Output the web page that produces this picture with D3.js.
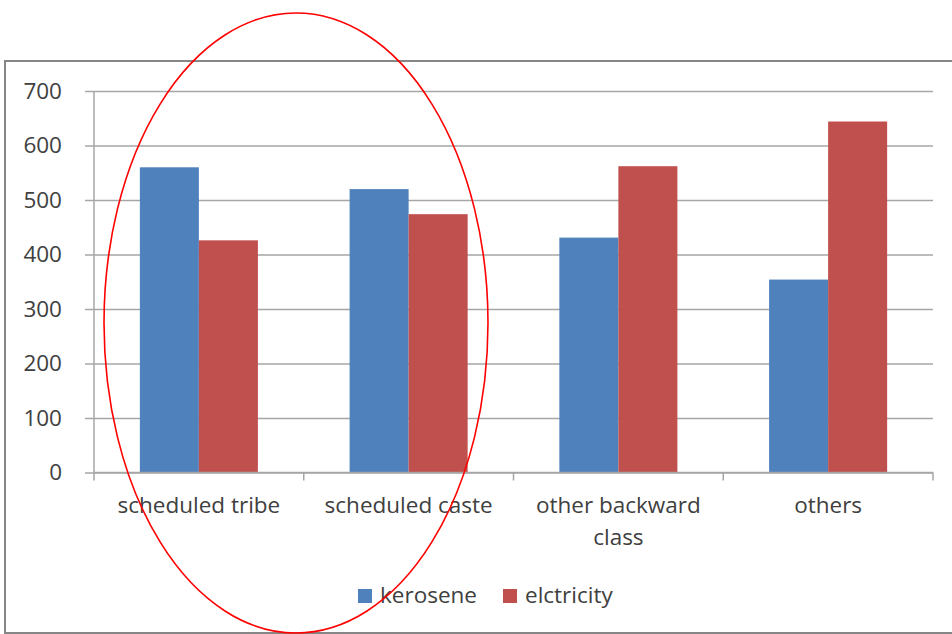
<!DOCTYPE html>
<html>
<head>
<meta charset="utf-8">
<script src="https://cdn.jsdelivr.net/npm/d3@7"></script>
<style>
  body { margin: 0; background: #fff; }
  text { font-family: "Open Sans", "Liberation Sans", sans-serif; fill: #404040; }
</style>
</head>
<body>
<div id="chart"></div>
<script>
// data
const categories = ["scheduled tribe", "scheduled caste", "other backward class", "others"];
const seriesNames = ["kerosene", "elctricity"];
const kerosene = [560, 520, 431, 354];
const elctricity = [426, 474, 562, 644];
const yTicks = [0, 100, 200, 300, 400, 500, 600, 700];
const colors = ["#4F81BD", "#C0504D"];

const W = 952, H = 634;
const plot = { left: 94, right: 933, top: 91, bottom: 472.5 };
const fontSize = "22.5px";

const svg = d3.select("#chart").append("svg")
  .attr("width", W)
  .attr("height", H);

// outer frame
svg.append("rect")
  .attr("x", 5).attr("y", 61)
  .attr("width", 960).attr("height", 572)
  .attr("fill", "none")
  .attr("stroke", "#868686")
  .attr("stroke-width", 2);

const rows = categories.map((c, i) => ({ cat: c, values: [kerosene[i], elctricity[i]] }));

let x0 = d3.scaleBand()
  .domain(categories)
  .range([plot.left, plot.right]);

let x1 = d3.scaleBand()
  .domain(seriesNames)
  .range([0, x0.bandwidth()])
  .paddingOuter(0.777);

let y = d3.scaleLinear()
  .domain([0, 700])
  .range([plot.bottom, plot.top]);

// gridlines + y labels (axis placed at right edge, ticks reach back past the y axis)
const yAxis = svg.append("g")
  .attr("transform", "translate(" + plot.right + ",0)")
  .call(d3.axisLeft(y).tickValues(yTicks).tickSize(plot.right - plot.left + 9).tickPadding(23));
yAxis.select(".domain").remove();
yAxis.selectAll("line").attr("stroke", "#a6a6a6").attr("stroke-width", 1.5);
yAxis.selectAll("text")
  .attr("fill", "#404040")
  .style("font-family", "'Open Sans', 'Liberation Sans', sans-serif")
  .style("font-size", fontSize);

// y axis line
svg.append("line")
  .attr("x1", plot.left).attr("x2", plot.left)
  .attr("y1", plot.top).attr("y2", plot.bottom)
  .attr("stroke", "#a6a6a6").attr("stroke-width", 1.5);

// bars
const groups = svg.selectAll(".grp")
  .data(rows)
  .enter().append("g")
  .attr("class", "grp")
  .attr("transform", (d) => "translate(" + x0(d.cat) + ",0)");

groups.selectAll("rect")
  .data((d) => d.values.map((v, i) => ({ name: seriesNames[i], v, i })))
  .enter().append("rect")
  .attr("x", (d) => x1(d.name))
  .attr("y", (d) => y(d.v))
  .attr("width", x1.bandwidth())
  .attr("height", (d) => y(0) - y(d.v))
  .attr("fill", (d) => colors[d.i]);

// x axis line with ticks at category boundaries
svg.append("line")
  .attr("x1", plot.left).attr("x2", plot.right)
  .attr("y1", plot.bottom).attr("y2", plot.bottom)
  .attr("stroke", "#a6a6a6").attr("stroke-width", 1.5);

const bounds = categories.map((c) => x0(c)).concat([plot.right]);
svg.selectAll(".xtick")
  .data(bounds)
  .enter().append("line")
  .attr("class", "xtick")
  .attr("x1", (d) => d).attr("x2", (d) => d)
  .attr("y1", plot.bottom).attr("y2", plot.bottom + 8)
  .attr("stroke", "#a6a6a6").attr("stroke-width", 1.5);

// category labels, wrapped like Excel does
const wrapLines = { "other backward class": ["other backward", "class"] };
svg.selectAll(".xlabel")
  .data(categories)
  .enter().append("text")
  .attr("class", "xlabel")
  .attr("text-anchor", "middle")
  .style("font-size", fontSize)
  .each(function(d) {
    const lines = wrapLines[d] || [d];
    const t = d3.select(this);
    lines.forEach((l, i) => {
      t.append("tspan")
        .attr("x", x0(d) + x0.bandwidth() / 2)
        .attr("y", 513 + i * 32)
        .text(l);
    });
  });

// legend
const legend = svg.append("g").attr("class", "legend");
const legendX = [358, 503];
seriesNames.forEach((name, i) => {
  legend.append("rect")
    .attr("x", legendX[i]).attr("y", 589)
    .attr("width", 14).attr("height", 14)
    .attr("fill", colors[i]);
  legend.append("text")
    .attr("x", legendX[i] + 22).attr("y", 603)
    .style("font-size", fontSize)
    .text(name);
});

// red hand-drawn-style ellipse around the first two groups
svg.append("ellipse")
  .attr("cx", 296).attr("cy", 323)
  .attr("rx", 192).attr("ry", 310)
  .attr("fill", "none")
  .attr("stroke", "#ff0000")
  .attr("stroke-width", 1.6);
</script>
</body>
</html>
